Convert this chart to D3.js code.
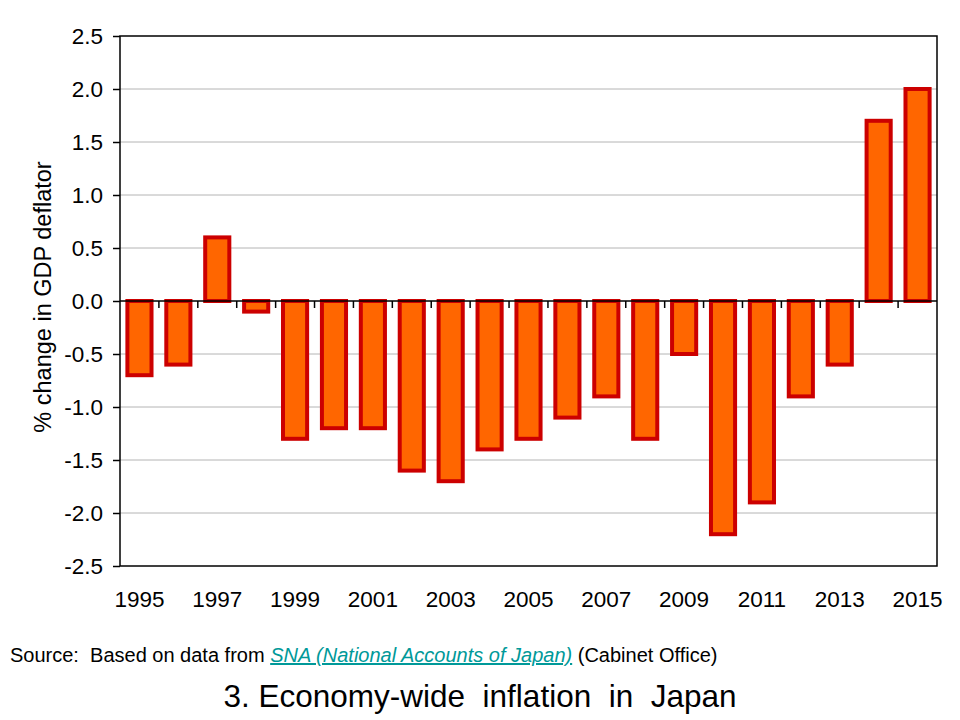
<!DOCTYPE html>
<html>
<head>
<meta charset="utf-8">
<script src="https://cdn.jsdelivr.net/npm/d3@7/dist/d3.min.js"></script>
<style>
  body { margin: 0; background: #fff; }
  svg { display: block; font-family: "Liberation Sans", Arial, sans-serif; }
</style>
</head>
<body>
<svg id="chart" width="960" height="720"></svg>
<script>
const years = ["1995","1996","1997","1998","1999","2000","2001","2002","2003","2004","2005","2006","2007","2008","2009","2010","2011","2012","2013","2014","2015"];
const deflatorChange = [-0.7,-0.6,0.6,-0.1,-1.3,-1.2,-1.2,-1.6,-1.7,-1.4,-1.3,-1.1,-0.9,-1.3,-0.5,-2.2,-1.9,-0.9,-0.6,1.7,2.0];
const yTicks = [-2.5,-2.0,-1.5,-1.0,-0.5,0.0,0.5,1.0,1.5,2.0,2.5];
const xLabelYears = ["1995","1997","1999","2001","2003","2005","2007","2009","2011","2013","2015"];
const yAxisTitle = "% change in GDP deflator";
const sourcePre = "Source:  Based on data from ";
const sourceLink = "SNA (National Accounts of Japan)";
const sourcePost = " (Cabinet Office)";
const chartTitle = "3. Economy-wide  inflation  in  Japan";

const svg = d3.select("#chart");
const L = 120, R = 937, T = 36, B = 566;

const x = d3.scaleBand().domain(years).range([L, R]).paddingInner(0.38).paddingOuter(0.19);
const y = d3.scaleLinear().domain([-2.5, 2.5]).range([B, T]);

// gridlines
svg.append("g").selectAll("line")
  .data(yTicks.filter(v => v !== 0 && v > -2.5 && v < 2.5))
  .join("line")
  .attr("x1", L).attr("x2", R)
  .attr("y1", d => y(d)).attr("y2", d => y(d))
  .attr("stroke", "#b4b4b4").attr("stroke-width", 1);

// bars
svg.append("g").selectAll("rect")
  .data(years.map((yr, i) => ({yr, v: deflatorChange[i]})))
  .join("rect")
  .attr("x", d => x(d.yr))
  .attr("width", x.bandwidth())
  .attr("y", d => Math.min(y(d.v), y(0)))
  .attr("height", d => Math.abs(y(d.v) - y(0)))
  .attr("fill", "#ff6600")
  .attr("stroke", "#cc0000")
  .attr("stroke-width", 4);

// zero line with category boundary ticks
svg.append("line")
  .attr("x1", L).attr("x2", R).attr("y1", y(0)).attr("y2", y(0))
  .attr("stroke", "#000").attr("stroke-width", 1.5);
svg.append("g").selectAll("line")
  .data(years.slice(1))
  .join("line")
  .attr("x1", d => x(d) - x.step() * x.paddingInner() / 2)
  .attr("x2", d => x(d) - x.step() * x.paddingInner() / 2)
  .attr("y1", y(0)).attr("y2", y(0) + 7)
  .attr("stroke", "#000").attr("stroke-width", 1.5);

// frame
svg.append("rect")
  .attr("x", L).attr("y", T).attr("width", R - L).attr("height", B - T)
  .attr("fill", "none").attr("stroke", "#000").attr("stroke-width", 1.5);

// y axis
const yAxis = d3.axisLeft(y).tickValues(yTicks).tickSize(7).tickPadding(10);
const gy = svg.append("g").attr("transform", `translate(${L},0)`).call(yAxis);
gy.select(".domain").remove();
gy.selectAll(".tick line").attr("stroke", "#000").attr("stroke-width", 1.5);
gy.selectAll(".tick text").attr("font-size", 22.5).attr("fill", "#000")
  .attr("font-family", "Liberation Sans, Arial, sans-serif")
  .text(d => d3.format(".1f")(d).replace("\u2212", "-"));

// x labels
svg.append("g").selectAll("text")
  .data(xLabelYears)
  .join("text")
  .attr("x", d => x(d) + x.bandwidth() / 2)
  .attr("y", 607)
  .attr("text-anchor", "middle")
  .attr("font-size", 22.5)
  .text(d => d);

// y axis title
svg.append("text")
  .attr("transform", `translate(51,297) rotate(-90)`)
  .attr("text-anchor", "middle")
  .attr("font-size", 23.5)
  .text(yAxisTitle);

// source
const src = svg.append("text").attr("x", 10).attr("y", 662).attr("font-size", 20).style("white-space", "pre");
src.append("tspan").text(sourcePre);
src.append("tspan").attr("fill", "#009999").attr("font-style", "italic").attr("text-decoration", "underline").text(sourceLink);
src.append("tspan").text(sourcePost);

// title
svg.append("text")
  .attr("x", 480).attr("y", 707)
  .attr("text-anchor", "middle")
  .attr("font-size", 31.5)
  .style("white-space", "pre")
  .text(chartTitle);
</script>
</body>
</html>
